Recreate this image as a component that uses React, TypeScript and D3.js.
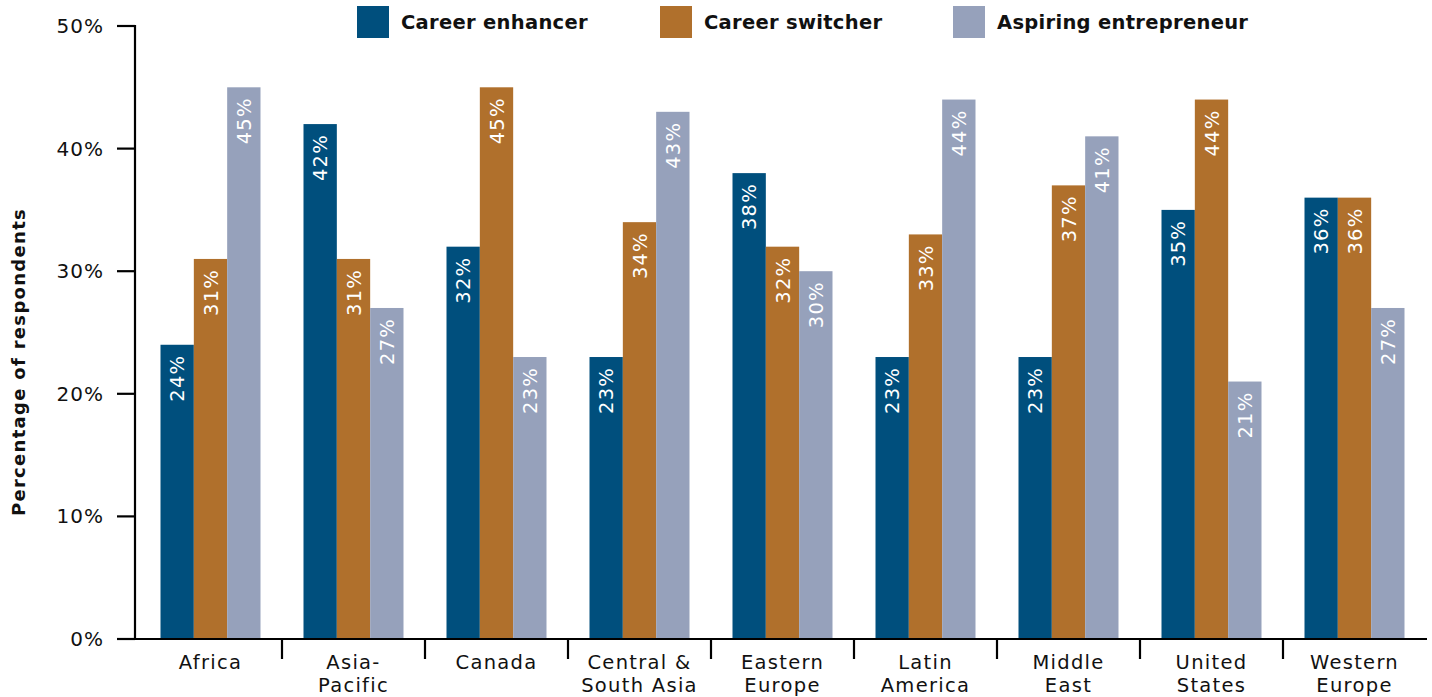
import React from "react";
import * as d3 from "d3";

const categories = [
  ["Africa"],
  ["Asia-", "Pacific"],
  ["Canada"],
  ["Central &", "South Asia"],
  ["Eastern", "Europe"],
  ["Latin", "America"],
  ["Middle", "East"],
  ["United", "States"],
  ["Western", "Europe"],
];
const seriesNames = ["Career enhancer", "Career switcher", "Aspiring entrepreneur"];
const careerEnhancer = [24, 42, 32, 23, 38, 23, 23, 35, 36];
const careerSwitcher = [31, 31, 45, 34, 32, 33, 37, 44, 36];
const aspiringEntrepreneur = [45, 27, 23, 43, 30, 44, 41, 21, 27];
const yTicks = [0, 10, 20, 30, 40, 50];
const colors = ["#004f7d", "#b0702c", "#96a1bb"];

const FONT = "'DejaVu Sans', sans-serif";

export default function App() {
  const W = 1432, H = 697;
  const left = 139, right = 1426, top = 26, bottom = 639;
  const series = [careerEnhancer, careerSwitcher, aspiringEntrepreneur];
  const keys = categories.map((c) => c.join(" "));
  const x = d3.scaleBand().domain(keys).range([left, right]).paddingInner(0).paddingOuter(0);
  const groupPad = 21.5;
  const inner = d3.scaleBand().domain(["0", "1", "2"]).range([groupPad, x.bandwidth() - groupPad]).padding(0);
  const y = d3.scaleLinear().domain([0, 50]).range([bottom, top]);
  const legendX = [357, 660, 953];

  return (
    <svg width={W} height={H} style={{ position: "absolute", left: 0, top: 0 }} fontFamily={FONT}>
      {keys.map((k, i) => (
        <g key={k}>
          {series.map((s, j) => {
            const bx = x(k)! + inner(String(j))!;
            const bw = inner.bandwidth();
            const v = s[i];
            return (
              <g key={j}>
                <rect x={bx} y={y(v)} width={bw} height={bottom - y(v)} fill={colors[j]} />
                <text
                  transform={`translate(${bx + bw / 2 + 7},${y(v) + 10}) rotate(-90)`}
                  textAnchor="end"
                  fill="#fff"
                  fontSize={19.5}
                  letterSpacing={1.2}
                >
                  {v}%
                </text>
              </g>
            );
          })}
        </g>
      ))}
      <line x1={135} x2={135} y1={top - 1} y2={bottom} stroke="#000" strokeWidth={2.2} />
      {yTicks.map((t) => (
        <g key={t}>
          <line x1={117} x2={135} y1={y(t)} y2={y(t)} stroke="#000" strokeWidth={2.2} />
          <text x={104} y={y(t) + 7} textAnchor="end" fontSize={20} letterSpacing={1} fill="#111">
            {t}%
          </text>
        </g>
      ))}
      <line x1={117} x2={1427} y1={bottom} y2={bottom} stroke="#000" strokeWidth={2.2} />
      {keys.slice(1).map((k) => (
        <line key={k} x1={x(k)!} x2={x(k)!} y1={bottom} y2={659} stroke="#000" strokeWidth={2.2} />
      ))}
      {categories.map((c, i) =>
        c.map((line, li) => (
          <text
            key={`${i}-${li}`}
            x={x(keys[i])! + x.bandwidth() / 2}
            y={669 + li * 23}
            textAnchor="middle"
            fontSize={19.5}
            letterSpacing={1.3}
            fill="#111"
          >
            {line}
          </text>
        ))
      )}
      <text
        transform={`translate(25,${362}) rotate(-90)`}
        textAnchor="middle"
        fontSize={18}
        fontWeight="bold"
        letterSpacing={1.3}
        fill="#111"
      >
        Percentage of respondents
      </text>
      {seriesNames.map((n, j) => (
        <g key={n}>
          <rect x={legendX[j]} y={6} width={32} height={32} fill={colors[j]} />
          <text x={legendX[j] + 44} y={29} fontSize={19.5} fontWeight="bold" letterSpacing={0.3} fill="#111">
            {n}
          </text>
        </g>
      ))}
    </svg>
  );
}
